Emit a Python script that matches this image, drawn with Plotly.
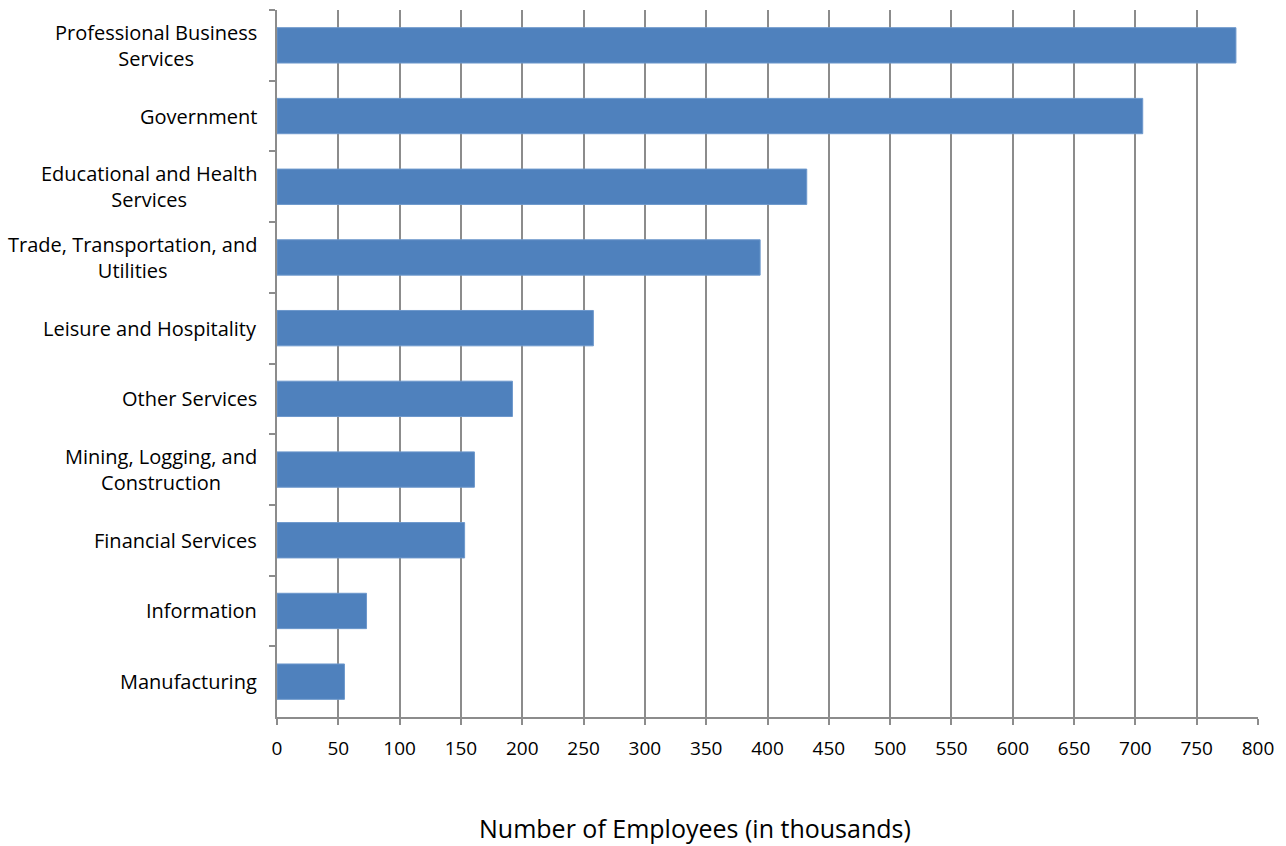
import plotly.graph_objects as go

categories = [
    "Professional Business<br>Services",
    "Government",
    "Educational and Health<br>Services",
    "Trade, Transportation, and<br>Utilities",
    "Leisure and Hospitality",
    "Other Services",
    "Mining, Logging, and<br>Construction",
    "Financial Services",
    "Information",
    "Manufacturing",
]
employees = [782, 706, 432, 394, 258, 192, 161, 153, 73, 55]
x_title = "Number of Employees (in thousands)"

FONT = "Open Sans, Noto Sans, sans-serif"

fig = go.Figure(go.Bar(
    x=employees,
    y=categories,
    orientation="h",
    marker=dict(color="#4F81BD", line=dict(color="#6d98cc", width=1)),
))

# Category labels as centre-aligned annotations (multi-line centred like the original)
for cat in categories:
    fig.add_annotation(
        x=0, xref="paper", y=cat, yref="y",
        text=cat, showarrow=False,
        xanchor="right", yanchor="middle", align="center",
        xshift=-18,
        font=dict(family=FONT, size=20, color="#000000"),
    )

fig.add_annotation(
    x=0.426, xref="paper", y=-0.157, yref="paper",
    text=x_title, showarrow=False,
    xanchor="center", yanchor="middle",
    font=dict(family=FONT, size=25, color="#000000"),
)

fig.update_layout(
    width=1286, height=846,
    margin=dict(l=277, r=28, t=10, b=129),
    paper_bgcolor="white", plot_bgcolor="white",
    font=dict(family=FONT, size=18, color="#000000"),
    bargap=0.5,
    showlegend=False,
    xaxis=dict(
        range=[0, 800], dtick=50, tick0=0,
        showgrid=True, gridcolor="#8c8c8c", gridwidth=2,
        showline=True, linecolor="#8c8c8c", linewidth=2,
        ticks="outside", ticklen=6, tickcolor="#8c8c8c", tickwidth=2,
        zeroline=False,
        tickfont=dict(size=19),
        ticklabelstandoff=7,
    ),
    yaxis=dict(
        autorange="reversed",
        showline=True, linecolor="#8c8c8c", linewidth=2,
        ticks="outside", ticklen=6, tickcolor="#8c8c8c", tickwidth=2,
        tickson="boundaries",
        showgrid=False,
        showticklabels=False,
    ),
)

fig.write_html("out.html")
